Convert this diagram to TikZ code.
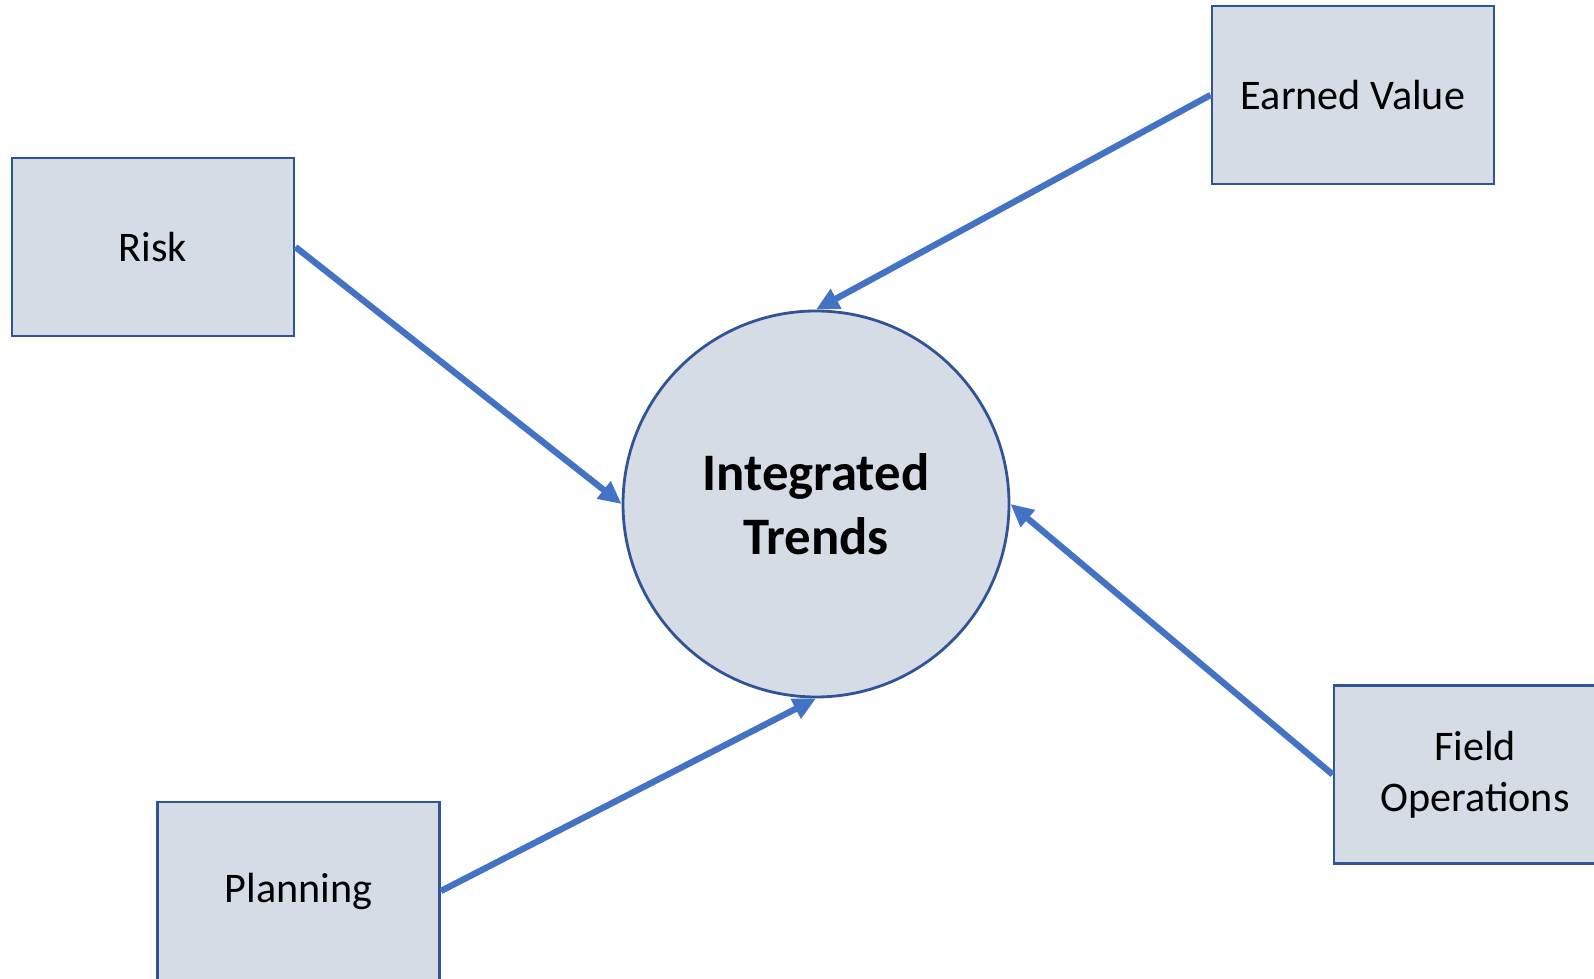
\documentclass[tikz,border=0pt]{standalone}
\usepackage{fontspec}
\setmainfont{Carlito}
\usepackage{xcolor}
\usetikzlibrary{arrows.meta}
\usetikzlibrary{shapes}

\definecolor{boxfill}{HTML}{D6DCE5}
\definecolor{boxline}{HTML}{2F5597}
\definecolor{arrowblue}{HTML}{4472C4}

\begin{document}
\begin{tikzpicture}
        \useasboundingbox (0,0) rectangle (15.94,9.79);
        \begin{scope}[every node/.style={draw=boxline,fill=boxfill,line width=0.8pt,
            minimum width=2.82cm,minimum height=1.78cm,inner sep=0pt,align=center,
            font=\fontsize{12}{14.4}\selectfont}]
          \node (risk) at (1.53,7.32) {Risk};
          \node (ev) at (13.53,8.84) {Earned Value};
          \node (plan) at (2.985,0.88) {Planning};
          \node (field) at (14.75,2.045) {Field\\Operations};
          \node[circle,minimum size=3.86cm,font=\fontsize{15}{18.2}\selectfont\bfseries]
            (trends) at (8.16,4.75) {Integrated\\Trends};
        \end{scope}
        \begin{scope}[every edge/.style={draw=arrowblue,line width=1.8pt,
            -{Triangle[length=6.5pt,width=6pt]}}]
          \path (risk.east) edge (trends.west);
          \path (ev.west) edge (trends.north);
          \path (plan.east) edge (trends.south);
          \path (field.west) edge (trends.east);
        \end{scope}
      \end{tikzpicture}
\end{document}
